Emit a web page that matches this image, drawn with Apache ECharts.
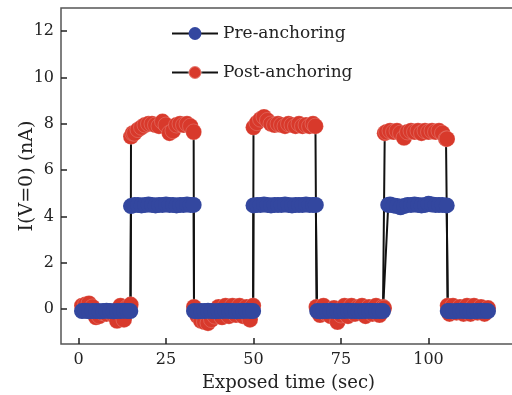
<!DOCTYPE html>
<html>
<head>
<meta charset="utf-8">
<script src="https://cdn.jsdelivr.net/npm/echarts@6/dist/echarts.min.js"></script>
<style>
  html, body { margin: 0; padding: 0; background: #fff; }
  #chart { width: 512px; height: 395px; }
</style>
</head>
<body>
<div id="chart"></div>
<script>
// exposed time (sec) and current I(V=0) in nA
const preTime = [
  1, 2, 3, 4, 5, 6, 7, 8, 9, 10, 11, 12, 13, 14, 14.8,
  15, 16, 17, 18, 19, 20, 21, 22, 23, 24, 25, 26, 27, 28, 29, 30, 31, 32, 32.9,
  33, 34, 35, 36, 37, 38, 39, 40, 41, 42, 43, 44, 45, 46, 47, 48, 49, 49.9,
  50, 51, 52, 53, 54, 55, 56, 57, 58, 59, 60, 61, 62, 63, 64, 65, 66, 67, 67.8,
  68.2, 69, 70, 71, 72, 73, 74, 75, 76, 77, 78, 79, 80, 81, 82, 83, 84, 85, 86, 87,
  88.5, 89, 90, 91, 92, 93, 94, 95, 96, 97, 98, 99, 100, 101, 102, 103, 104, 105.2,
  105.5, 106, 107, 108, 109, 110, 111, 112, 113, 114, 115, 116, 117
];
const preCurrent = [
  -0.08, -0.07, -0.09, -0.08, -0.08, -0.09, -0.08, -0.07, -0.08, -0.09, -0.08, -0.08, -0.07, -0.08, -0.08,
  4.45, 4.5, 4.5, 4.48, 4.5, 4.52, 4.5, 4.48, 4.5, 4.5, 4.52, 4.5, 4.5, 4.48, 4.5, 4.5, 4.52, 4.5, 4.5,
  -0.08, -0.09, -0.08, -0.08, -0.07, -0.08, -0.09, -0.08, -0.08, -0.07, -0.08, -0.08, -0.09, -0.08, -0.08, -0.07, -0.08, -0.08,
  4.48, 4.5, 4.5, 4.52, 4.5, 4.48, 4.5, 4.5, 4.5, 4.52, 4.5, 4.48, 4.5, 4.5, 4.5, 4.52, 4.5, 4.5, 4.5,
  -0.08, -0.09, -0.08, -0.08, -0.07, -0.08, -0.09, -0.08, -0.08, -0.07, -0.08, -0.08, -0.09, -0.08, -0.08, -0.07, -0.08, -0.08, -0.08, -0.08,
  4.5, 4.52, 4.48, 4.45, 4.4, 4.45, 4.5, 4.5, 4.52, 4.5, 4.48, 4.5, 4.55, 4.52, 4.5, 4.5, 4.5, 4.48,
  -0.08, -0.08, -0.09, -0.08, -0.07, -0.08, -0.08, -0.09, -0.08, -0.08, -0.07, -0.08, -0.08
];

const postTime = [
  1, 2, 3, 4, 5, 6, 7, 8, 9, 10, 11, 12, 13, 14, 14.9,
  15, 15.5, 16, 17, 18, 19, 20, 21, 22, 23, 24, 25, 26, 27, 28, 29, 30, 31, 32, 32.9,
  33, 34, 35, 36, 37, 38, 39, 40, 41, 42, 43, 44, 45, 46, 47, 48, 49, 49.9,
  50, 51, 52, 53, 54, 55, 56, 57, 58, 59, 60, 61, 62, 63, 64, 65, 66, 67, 67.7,
  68, 69, 70, 71, 72, 73, 74, 75, 76, 77, 78, 79, 80, 81, 82, 83, 84, 85, 86, 87, 87.3,
  87.5, 88, 89, 90, 91, 92, 93, 94, 95, 96, 97, 98, 99, 100, 101, 102, 103, 104, 105, 105.3,
  105.5, 106, 107, 108, 109, 110, 111, 112, 113, 114, 115, 116, 117
];
const postCurrent = [
  0.15, 0.2, 0.25, 0.1, -0.35, -0.3, -0.15, -0.2, -0.1, -0.25, -0.5, 0.15, -0.45, 0.1, 0.2,
  7.45, 7.6, 7.6, 7.75, 7.85, 7.95, 8.0, 8.0, 7.95, 7.9, 8.1, 7.95, 7.6, 7.7, 7.95, 8.0, 7.95, 8.0, 7.9, 7.65,
  0.1, -0.3, -0.5, -0.55, -0.6, -0.45, -0.3, 0.1, -0.35, 0.15, -0.3, 0.15, -0.25, 0.15, -0.3, 0.1, -0.45, 0.15,
  7.85, 8.05, 8.2, 8.3, 8.15, 8.0, 7.95, 8.0, 7.95, 7.9, 8.0, 7.95, 7.9, 8.0, 7.9, 7.95, 7.9, 8.0, 7.9,
  0.1, -0.25, 0.15, -0.2, -0.3, 0.05, -0.55, -0.25, 0.15, -0.3, 0.15, -0.2, 0.1, 0.15, -0.3, 0.1, -0.2, 0.15, -0.25, 0.1, 0.05,
  7.6, 7.65, 7.7, 7.65, 7.7, 7.6, 7.4, 7.65, 7.7, 7.65, 7.7, 7.6, 7.7, 7.65, 7.7, 7.65, 7.7, 7.6, 7.35, 7.35,
  0.15, -0.2, 0.15, -0.15, 0.1, -0.2, 0.15, -0.2, 0.15, -0.15, 0.1, -0.2, 0.05
];

const xTicks = [0, 25, 50, 75, 100];
const yTicks = [0, 2, 4, 6, 8, 10, 12];

const pair = (xs, ys) => xs.map((x, i) => [x, ys[i]]);

const font = 'DejaVu Serif';
const chart = echarts.init(document.getElementById('chart'), null, {renderer: 'canvas'});
chart.setOption({
  animation: false,
  grid: {
    left: 61, right: -4, top: 8, bottom: 51,
    outerBoundsMode: 'none',
    show: true, borderColor: '#555', borderWidth: 1.5, backgroundColor: 'transparent'
  },
  legend: {
    data: ['Pre-anchoring', 'Post-anchoring'],
    orient: 'vertical',
    left: 166, top: 20,
    itemWidth: 46, itemHeight: 16, itemGap: 22,
    textStyle: {fontFamily: font, fontSize: 17, color: '#222'}
  },
  xAxis: {
    type: 'value', min: -5, max: 125,
    name: 'Exposed time (sec)', nameLocation: 'middle', nameGap: 30,
    nameMoveOverlap: false,
    nameTextStyle: {fontFamily: font, fontSize: 18, color: '#222'},
    axisLine: {show: false, onZero: false},
    axisTick: {inside: true, length: 6, customValues: xTicks, lineStyle: {color: '#222', width: 1.5}},
    axisLabel: {customValues: xTicks, margin: 8, fontFamily: font, fontSize: 16, color: '#222'},
    splitLine: {show: false}
  },
  yAxis: {
    type: 'value', min: -1.5, max: 13,
    name: 'I(V=0) (nA)', nameLocation: 'middle', nameGap: 24,
    nameMoveOverlap: false,
    nameTextStyle: {fontFamily: font, fontSize: 19, color: '#222'},
    axisLine: {show: false, onZero: false},
    axisTick: {inside: true, length: 6, customValues: yTicks, lineStyle: {color: '#222', width: 1.5}},
    axisLabel: {customValues: yTicks, margin: 7, fontFamily: font, fontSize: 16, color: '#222'},
    splitLine: {show: false}
  },
  series: [
    {
      name: 'Post-anchoring',
      type: 'line',
      data: pair(postTime, postCurrent),
      symbol: 'circle', symbolSize: 16,
      itemStyle: {color: '#d8392b', borderColor: 'rgba(255,255,255,0.3)', borderWidth: 0.6},
      lineStyle: {color: '#111', width: 2}
    },
    {
      name: 'Pre-anchoring',
      type: 'line',
      data: pair(preTime, preCurrent),
      symbol: 'circle', symbolSize: 16,
      itemStyle: {color: '#33479f'},
      lineStyle: {color: '#111', width: 2}
    }
  ]
});
</script>
</body>
</html>
